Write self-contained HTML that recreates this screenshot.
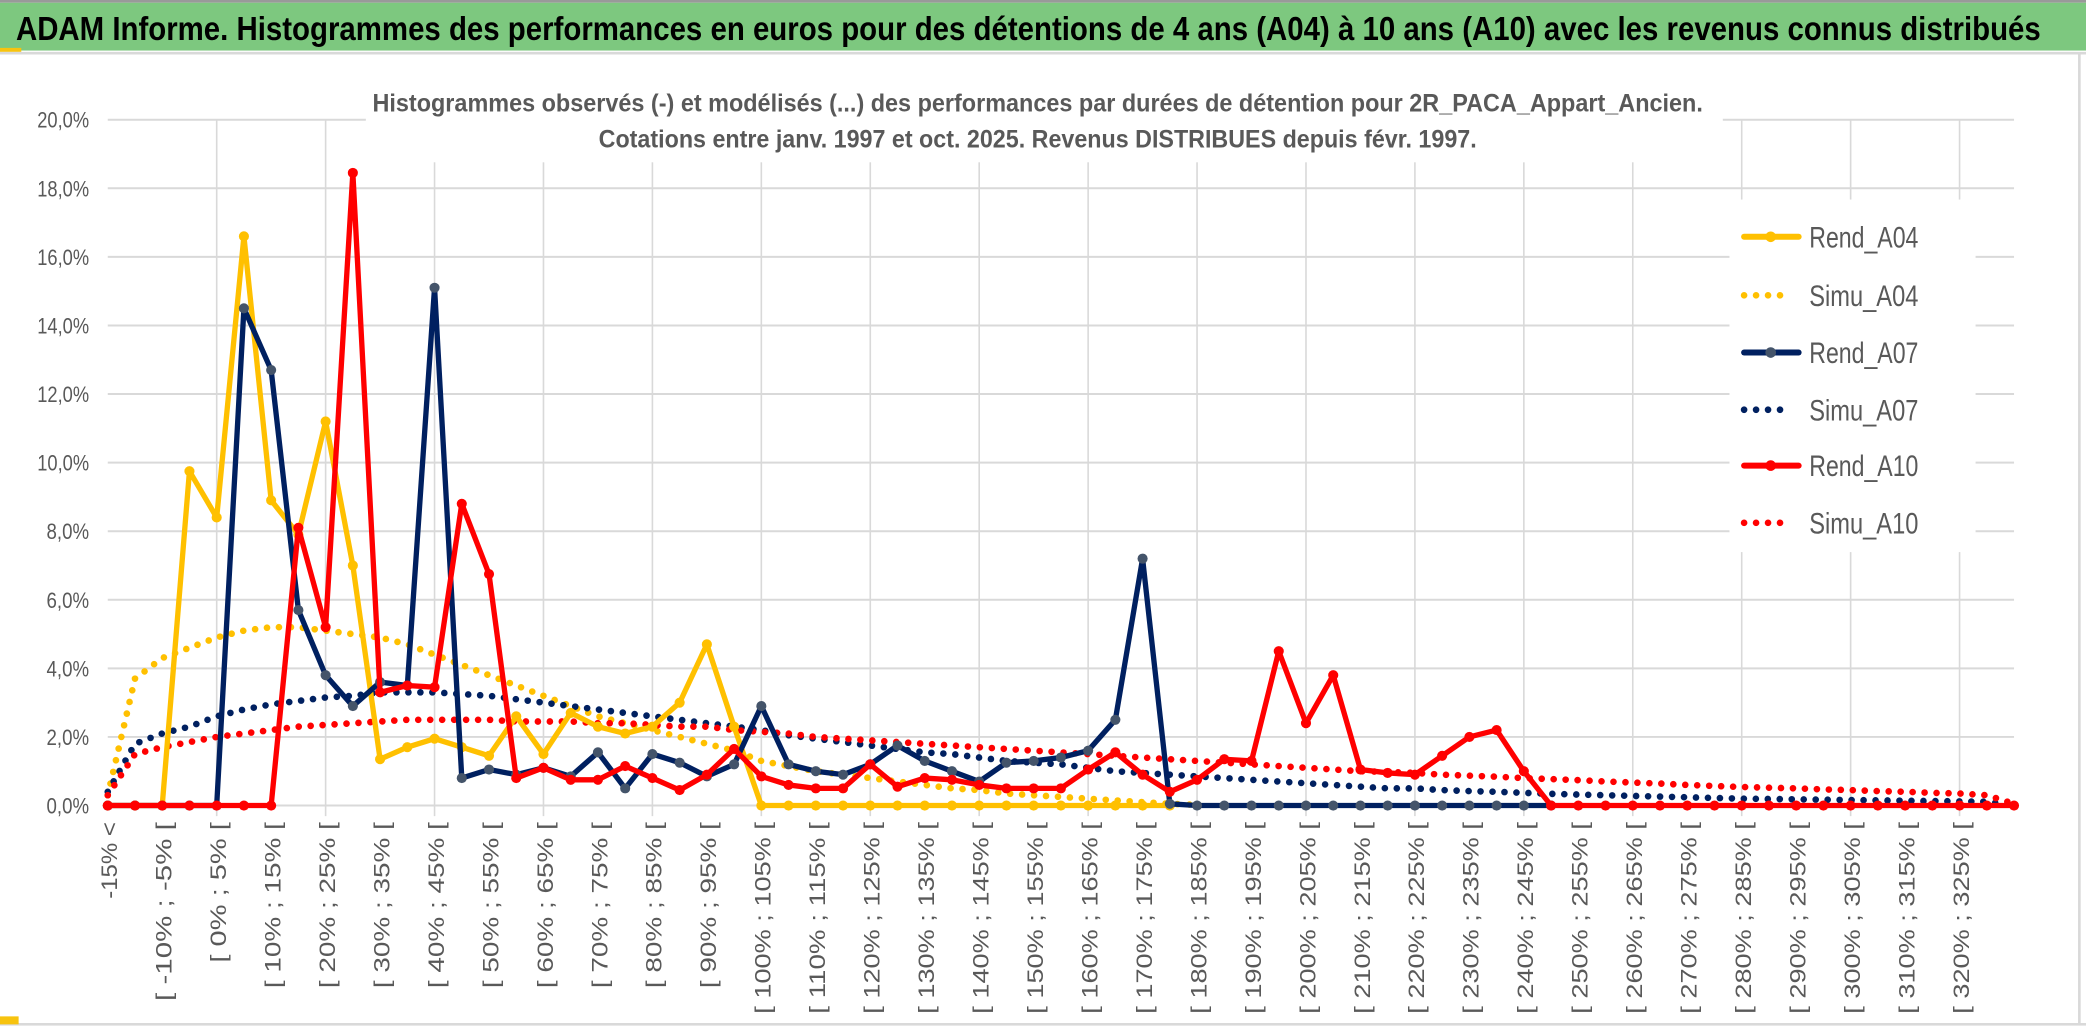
<!DOCTYPE html>
<html><head><meta charset="utf-8"><style>
html,body{margin:0;padding:0;background:#fff;}
svg{display:block;}
text{font-family:"Liberation Sans",sans-serif;}
</style></head><body>
<svg id="chart" width="2086" height="1033" viewBox="0 0 1568 776.5" preserveAspectRatio="none" xmlns="http://www.w3.org/2000/svg">
<rect x="0" y="0" width="1568" height="776.5" fill="#fff"/>
<rect x="0" y="2" width="1568" height="36" fill="#7dc87f"/>
<line x1="0" y1="1" x2="1568" y2="1" stroke="#999" stroke-width="2"/>
<rect x="0" y="36" width="16" height="3" fill="#f7c30e"/>
<line x1="0" y1="40" x2="1568" y2="40" stroke="#d9d9d9" stroke-width="2"/>
<text x="12" y="30" font-size="25" font-weight="bold" fill="#000" textLength="1522" lengthAdjust="spacingAndGlyphs">ADAM Informe. Histogrammes des performances en euros pour des détentions de 4 ans (A04) à 10 ans (A10) avec les revenus connus distribués</text>
<line x1="1563" y1="40" x2="1563" y2="770" stroke="#d9d9d9" stroke-width="2"/>
<line x1="0" y1="770" x2="1568" y2="770" stroke="#d9d9d9" stroke-width="2"/>
<rect x="0" y="764" width="14" height="6" fill="#f7c30e"/>
<g id="grid"></g>
<g id="yaxis"></g>
<g id="xaxis"></g>
<rect x="275" y="60" width="1020" height="62" fill="#fff"/>
<text x="780" y="84" text-anchor="middle" font-size="19" font-weight="bold" fill="#595959" textLength="1000" lengthAdjust="spacingAndGlyphs">Histogrammes observés (-) et modélisés (...) des performances par durées de détention pour 2R_PACA_Appart_Ancien.</text>
<text x="780" y="111" text-anchor="middle" font-size="19" font-weight="bold" fill="#595959" textLength="660" lengthAdjust="spacingAndGlyphs">Cotations entre janv. 1997 et oct. 2025. Revenus DISTRIBUES depuis févr. 1997.</text>
<g id="series"></g>
<rect x="1300" y="150" width="185" height="265" fill="#fff"/>
<g id="legend"></g>
</svg>
<script>
const categories = [];
for (let k = 0; k < 71; k++) categories.push(k);
const tickLabels = ["-15% <","[ -10% ; -5% [","[ 0% ; 5% [","[ 10% ; 15% [","[ 20% ; 25% [","[ 30% ; 35% [","[ 40% ; 45% [","[ 50% ; 55% [","[ 60% ; 65% [","[ 70% ; 75% [","[ 80% ; 85% [","[ 90% ; 95% [","[ 100% ; 105% [","[ 110% ; 115% [","[ 120% ; 125% [","[ 130% ; 135% [","[ 140% ; 145% [","[ 150% ; 155% [","[ 160% ; 165% [","[ 170% ; 175% [","[ 180% ; 185% [","[ 190% ; 195% [","[ 200% ; 205% [","[ 210% ; 215% [","[ 220% ; 225% [","[ 230% ; 235% [","[ 240% ; 245% [","[ 250% ; 255% [","[ 260% ; 265% [","[ 270% ; 275% [","[ 280% ; 285% [","[ 290% ; 295% [","[ 300% ; 305% [","[ 310% ; 315% [","[ 320% ; 325% ["];
const yTicks = [0,2,4,6,8,10,12,14,16,18,20];
const yTickLabels = ["0,0%","2,0%","4,0%","6,0%","8,0%","10,0%","12,0%","14,0%","16,0%","18,0%","20,0%"];
const rendA04 = [0,0,0,9.75,8.4,16.6,8.9,7.9,11.2,7.0,1.35,1.7,1.95,1.7,1.45,2.6,1.5,2.7,2.3,2.1,2.3,3.0,4.7,2.3,0,0,0,0,0,0,0,0,0,0,0,0,0,0,0,0];
const simuA04 = [0.3,3.7,4.3,4.6,4.9,5.1,5.2,5.2,5.1,5.0,4.9,4.7,4.4,4.1,3.8,3.5,3.2,2.9,2.6,2.4,2.2,2.0,1.8,1.6,1.3,1.15,1.0,0.9,0.8,0.7,0.6,0.5,0.45,0.35,0.3,0.25,0.2,0.15,0.1,0.05,0.02];
const rendA07 = [0,0,0,0,0,14.5,12.7,5.7,3.8,2.9,3.6,3.5,15.1,0.8,1.05,0.9,1.1,0.85,1.55,0.5,1.5,1.25,0.85,1.2,2.9,1.2,1.0,0.9,1.2,1.75,1.3,1.0,0.7,1.25,1.3,1.4,1.6,2.5,7.2,0.05,0,0,0,0,0,0,0,0,0,0,0,0,0,0];
const simuA07 = [0.4,1.8,2.1,2.3,2.6,2.8,2.95,3.05,3.15,3.2,3.3,3.3,3.3,3.25,3.2,3.1,3.0,2.9,2.8,2.7,2.6,2.5,2.4,2.3,2.2,2.05,1.95,1.85,1.75,1.65,1.55,1.5,1.4,1.3,1.25,1.2,1.1,1.0,0.95,0.9,0.85,0.8,0.75,0.7,0.65,0.6,0.55,0.5,0.5,0.45,0.42,0.4,0.37,0.34,0.32,0.3,0.28,0.26,0.24,0.22,0.2,0.19,0.18,0.17,0.16,0.15,0.14,0.13,0.12,0.11,0];
const rendA10 = [0,0,0,0,0,0,0,8.1,5.2,18.45,3.3,3.5,3.45,8.8,6.75,0.8,1.1,0.75,0.75,1.15,0.8,0.45,0.9,1.65,0.85,0.6,0.5,0.5,1.2,0.55,0.8,0.75,0.6,0.5,0.5,0.5,1.05,1.55,0.9,0.4,0.75,1.35,1.3,4.5,2.4,3.8,1.05,0.95,0.9,1.45,2.0,2.2,1.0,0,0,0,0,0,0,0,0,0,0,0,0,0,0,0,0,0,0];
const simuA10 = [0.3,1.5,1.7,1.85,2.0,2.1,2.2,2.3,2.35,2.4,2.45,2.5,2.5,2.5,2.5,2.45,2.45,2.45,2.4,2.4,2.35,2.3,2.3,2.2,2.15,2.1,2.0,1.95,1.9,1.85,1.8,1.75,1.7,1.65,1.6,1.55,1.5,1.45,1.4,1.35,1.3,1.25,1.2,1.15,1.1,1.05,1.0,0.98,0.95,0.9,0.87,0.84,0.8,0.77,0.74,0.7,0.67,0.64,0.6,0.57,0.54,0.52,0.5,0.47,0.45,0.42,0.4,0.37,0.35,0.3,0.05];

const NS = "http://www.w3.org/2000/svg";
const X0 = 81, DX = 20.47, Y0 = 605.5, YTOP = 90;
function xScale(i){ return X0 + i*DX; }
function yScale(v){ return Y0 - (v/20)*(Y0-YTOP); }
function mk(tag, attrs, parent){ const e=document.createElementNS(NS,tag); for(const k in attrs) e.setAttribute(k,attrs[k]); parent.appendChild(e); return e; }

const grid=document.getElementById('grid');
yTicks.forEach(v=>{
  const l=mk('line',{x1:X0,x2:xScale(70),y1:yScale(v),y2:yScale(v),stroke:'#d9d9d9','stroke-width':1.5},grid);
  
  
});
for(let i=4;i<=70;i+=4){
  const l=mk('line',{x1:xScale(i),x2:xScale(i),y1:YTOP,y2:Y0+8,stroke:'#d9d9d9','stroke-width':1.2},grid);
  
  
}
const ya=document.getElementById('yaxis');
yTicks.forEach((v,k)=>{
  const t=mk('text',{x:67,y:yScale(v)+6,'text-anchor':'end','font-size':17,fill:'#595959',textLength:yTickLabels[k].length>4?39:32,lengthAdjust:'spacingAndGlyphs'},ya);
  t.textContent=yTickLabels[k];
  
  
});
const xa=document.getElementById('xaxis');
tickLabels.forEach((lab,k)=>{
  const x=xScale(k*2)+7;
  const t=mk('text',{x:0,y:0,transform:`translate(${x},618) rotate(-90)`,'text-anchor':'end','font-size':17,fill:'#595959','font-family':'"DejaVu Sans",sans-serif',textLength:lab.length*9.6,lengthAdjust:'spacingAndGlyphs'},xa);
  t.textContent=lab;
  
  
});

const ser=document.getElementById('series');
function dotted(vals,color,name){
  const pts=vals.map((v,i)=>xScale(i)+','+yScale(v)).join(' ');
  const p=mk('polyline',{points:pts,fill:'none',stroke:color,'stroke-width':5,'stroke-linecap':'round','stroke-dasharray':'0 9'},ser);
  
  
}
function solid(vals,color,mcolor,name){
  const pts=vals.map((v,i)=>xScale(i)+','+yScale(v)).join(' ');
  const p=mk('polyline',{points:pts,fill:'none',stroke:color,'stroke-width':4,'stroke-linejoin':'round'},ser);
  
  
  vals.forEach((v,i)=>{
    const c=mk('circle',{cx:xScale(i),cy:yScale(v),r:3.8,fill:mcolor},ser);
    
    
  });
}
dotted(simuA04,'#ffc000','simu-a04-line');
dotted(simuA07,'#002060','simu-a07-line');
dotted(simuA10,'#ff0000','simu-a10-line');
solid(rendA04,'#ffc000','#ffc000','rend-a04-line');
solid(rendA07,'#002060','#44546a','rend-a07-line');
solid(rendA10,'#ff0000','#ff0000','rend-a10-line');

const lg=document.getElementById('legend');
const legendItems=[["Rend_A04",'#ffc000','#ffc000',false],["Simu_A04",'#ffc000','',true],["Rend_A07",'#002060','#44546a',false],["Simu_A07",'#002060','',true],["Rend_A10",'#ff0000','#ff0000',false],["Simu_A10",'#ff0000','',true]];
const legendY=[178,222,265,308,350,393];
legendItems.forEach((it,k)=>{
  const y=legendY[k];
  const g=mk('g',{},lg);
  
  
  if(it[3]){
    mk('line',{x1:1311,x2:1345,y1:y,y2:y,stroke:it[1],'stroke-width':5,'stroke-linecap':'round','stroke-dasharray':'0 9'},g);
  } else {
    mk('line',{x1:1311,x2:1352,y1:y,y2:y,stroke:it[1],'stroke-width':4.5,'stroke-linecap':'round'},g);
    mk('circle',{cx:1331,cy:y,r:4,fill:it[2]},g);
  }
  const t=mk('text',{x:1360,y:y+8,'font-size':22,fill:'#595959',textLength:82,lengthAdjust:'spacingAndGlyphs'},g);
  t.textContent=it[0];
});
</script>
</body></html>
